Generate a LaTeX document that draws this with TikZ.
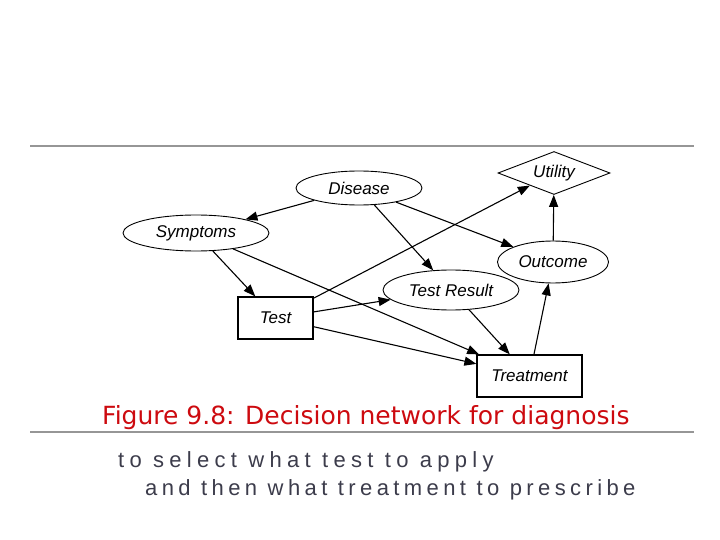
\documentclass[tikz,border=0pt]{standalone}
\usepackage{fontspec}
\setmainfont{Liberation Sans}
\newfontfamily\capfont{DejaVu Sans}
\newfontfamily\handfontA[LetterSpace=24]{Liberation Sans}
\newfontfamily\handfontB[LetterSpace=20]{Liberation Sans}
\usetikzlibrary{shapes.geometric,arrows.meta}
\definecolor{capred}{RGB}{205,10,15}
\definecolor{rulegray}{RGB}{150,150,150}
\definecolor{handgray}{RGB}{60,60,75}
\begin{document}
\begin{tikzpicture}[x=1pt,y=-1pt,
  lbl/.style={font=\itshape\fontsize{17}{19}\selectfont},
  chance/.style={ellipse,draw,line width=0.9pt,inner sep=0pt,lbl},
  decision/.style={rectangle,draw,line width=1.2pt,inner sep=0pt,lbl},
  utilnode/.style={diamond,draw,line width=0.9pt,inner sep=0pt,aspect=2.6,lbl},
  link/.style={line width=1.1pt,-{Triangle[length=12pt,width=9pt]}},
  hand/.style={anchor=base west,inner sep=0pt,text=handgray}]
\useasboundingbox (0,0) rectangle (720,540);
\fill[white] (0,0) rectangle (720,540);
% rules
\coordinate (r1a) at (30,146); \coordinate (r1b) at (694,146);
\coordinate (r2a) at (30,432); \coordinate (r2b) at (694,432);
\draw[rulegray,line width=1.6pt] (r1a) -- (r1b);
\draw[rulegray,line width=1.2pt] (r2a) -- (r2b);
% nodes
\node[chance,minimum width=126pt,minimum height=34pt] (dis) at (359,188) {Disease};
\node[chance,minimum width=146pt,minimum height=36pt] (sym) at (196,233) {Symptoms};
\node[utilnode,minimum width=112pt,minimum height=43pt] (uti) at (554,173) {Utility};
\node[chance,minimum width=111pt,minimum height=42pt] (out) at (553,262) {Outcome};
\node[chance,minimum width=136pt,minimum height=40pt] (tr) at (451,290) {Test Result};
\node[decision,minimum width=75pt,minimum height=42pt] (test) at (275.5,318) {Test};
\node[decision,minimum width=105pt,minimum height=42pt] (treat) at (529.5,376) {Treatment};
% edges
\draw[link] (dis) -- (sym);
\draw[link] (dis) -- (tr);
\draw[link] (dis) -- (out);
\draw[link] (sym) -- (test);
\draw[link] (sym) -- (treat);
\draw[link] (test) -- (uti);
\draw[link] (test) -- (tr);
\draw[link] (test) -- (treat);
\draw[link] (tr) -- (treat);
\draw[link] (treat) -- (out);
\draw[link] (out) -- (uti);
% caption
\node[anchor=base west,inner sep=0pt,text=capred,font=\capfont\fontsize{25}{28}\selectfont] (cap) at (102,424) {Figure 9.8: Decision network for diagnosis};
% handwriting
\node[hand,font=\handfontA\fontsize{22}{24}\selectfont] (h1) at (118,467) {to select what test to apply};
\node[hand,font=\handfontB\fontsize{22}{24}\selectfont] (h2) at (145,495) {and then what treatment to prescribe};
\end{tikzpicture}
\end{document}
